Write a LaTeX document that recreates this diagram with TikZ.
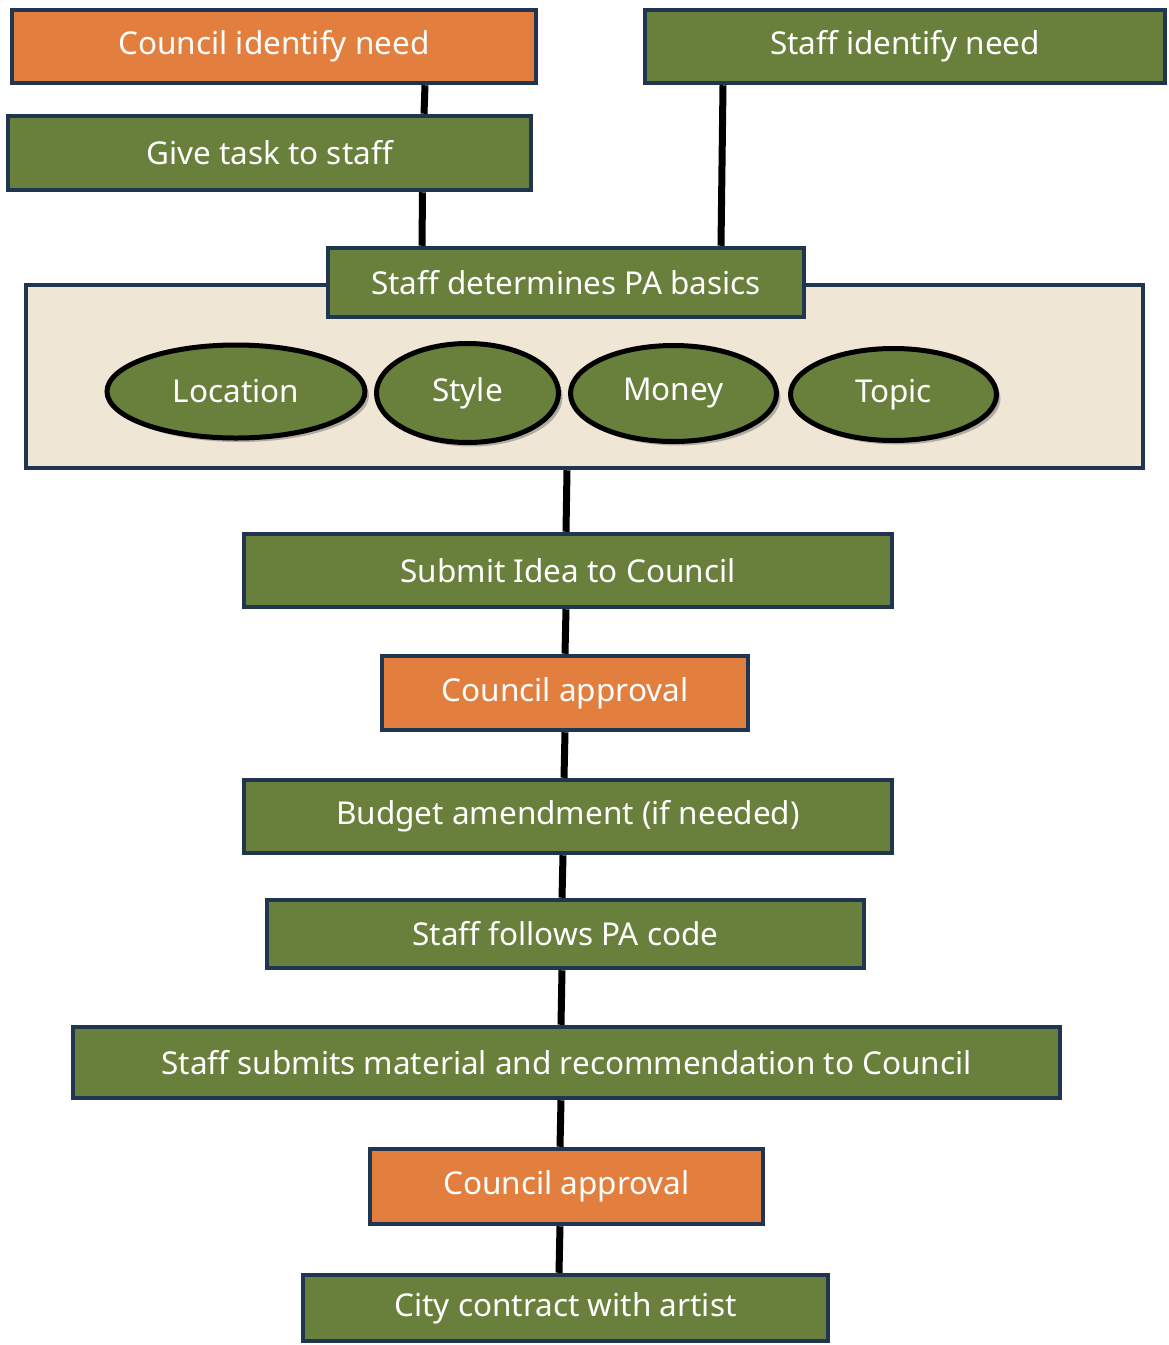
\documentclass[tikz,border=0pt]{standalone}
\usepackage{fontspec}
\setmainfont{Noto Sans}
\usetikzlibrary{shapes.geometric,shadows}
\definecolor{orangefill}{HTML}{E27F3F}
\definecolor{greenfill}{HTML}{68803C}
\definecolor{navyedge}{HTML}{1F3550}
\definecolor{beigefill}{HTML}{EFE6D5}
\pgfdeclarelayer{background}
\pgfsetlayers{background,main}
\tikzset{
  boxbase/.style={draw=navyedge, line width=4.5pt, text=white, inner sep=0pt,
    font=\fontsize{31.5}{36}\selectfont, anchor=center},
  greenbox/.style={boxbase, fill=greenfill},
  orangebox/.style={boxbase, fill=orangefill},
  oval/.style={ellipse, draw=black, line width=5pt, fill=greenfill, text=white,
    inner sep=0pt, font=\fontsize{31.5}{36}\selectfont,
    drop shadow={shadow xshift=4pt, shadow yshift=-4pt, opacity=0.45, fill=black!60}},
  link/.style={draw=black, line width=7pt}
}
\begin{document}
\begin{tikzpicture}[x=1pt,y=-1pt]
\useasboundingbox (0,0) rectangle (1169,1345);
% container
\node[draw=navyedge, line width=4.5pt, fill=beigefill, minimum width=1117pt, minimum height=183pt, inner sep=0pt] (cont) at (584.5,376.5) {};
% top boxes
\node[orangebox, minimum width=524pt, minimum height=73pt] (cin) at (274,46.5) {Council identify need};
\node[greenbox, minimum width=520pt, minimum height=73pt] (sin) at (905,46.5) {Staff identify need};
\node[greenbox, minimum width=523pt, minimum height=74pt] (task) at (269.5,153) {Give task to staff};
\node[greenbox, minimum width=476pt, minimum height=69pt] (basics) at (566,282.5) {Staff determines PA basics};
% ovals
\node[oval, minimum width=258pt, minimum height=93pt] (loc) at (236,391.5) {Location};
\node[oval, minimum width=182pt, minimum height=99pt] (sty) at (467.5,393) {Style};
\node[oval, minimum width=206pt, minimum height=96pt] (mon) at (673.5,393.5) {Money};
\node[oval, minimum width=206pt, minimum height=92pt] (top) at (893.5,394.5) {Topic};
% main column
\node[greenbox, minimum width=648pt, minimum height=73pt] (sub) at (568,570.5) {Submit Idea to Council};
\node[orangebox, minimum width=366pt, minimum height=74pt] (app1) at (565,693) {Council approval};
\node[greenbox, minimum width=648pt, minimum height=73pt] (bud) at (568,816.5) {Budget amendment (if needed)};
\node[greenbox, minimum width=597pt, minimum height=68pt] (code) at (565.5,934) {Staff follows PA code};
\node[greenbox, minimum width=987pt, minimum height=71pt] (mat) at (566.5,1062.5) {Staff submits material and recommendation to Council};
\node[orangebox, minimum width=393pt, minimum height=75pt] (app2) at (566.5,1186.5) {Council approval};
\node[greenbox, minimum width=525pt, minimum height=66pt] (city) at (565.5,1308) {City contract with artist};
% connectors
\begin{pgfonlayer}{background}
\draw[link] ([xshift=151pt]cin.south) -- ([xshift=154.5pt]task.north);
\draw[link] ([xshift=153pt]task.south) -- ([xshift=-144pt]basics.north);
\draw[link] ([xshift=-182pt]sin.south) -- ([xshift=155pt]basics.north);
\end{pgfonlayer}
\draw[link] ([xshift=-17.5pt]cont.south) -- ([xshift=-2pt]sub.north);
\draw[link] ([xshift=-2pt]sub.south) -- (app1.north);
\draw[link] (app1.south) -- ([xshift=-4pt]bud.north);
\draw[link] ([xshift=-5pt]bud.south) -- ([xshift=-3.5pt]code.north);
\draw[link] ([xshift=-3.5pt]code.south) -- ([xshift=-5.5pt]mat.north);
\draw[link] ([xshift=-5.5pt]mat.south) -- ([xshift=-6.5pt]app2.north);
\draw[link] ([xshift=-6.5pt]app2.south) -- ([xshift=-6.5pt]city.north);
\end{tikzpicture}
\end{document}
